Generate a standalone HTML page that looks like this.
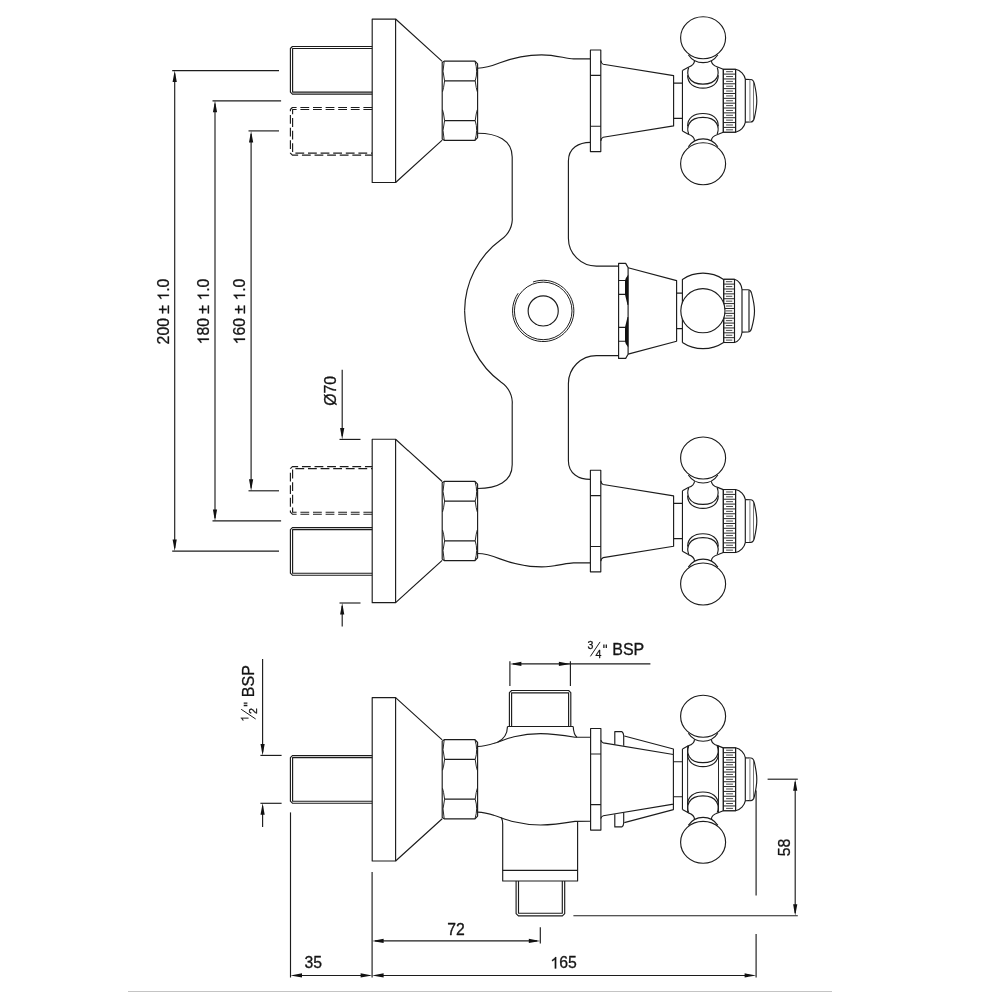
<!DOCTYPE html>
<html><head><meta charset="utf-8"><title>drawing</title>
<style>
html,body{margin:0;padding:0;background:#fff;width:1000px;height:1000px;overflow:hidden}
svg{display:block}
svg *{vector-effect:none}
.d{fill:none;stroke:#1c1c1c;stroke-width:1.15;stroke-linecap:butt;stroke-linejoin:round}
.d text{font-family:"Liberation Sans",sans-serif;fill:#141414;stroke:#141414;stroke-width:0.3}
.d .g{fill:#141414;stroke:#141414;stroke-width:38}
.d .f{fill:#111;stroke:none}
.d .t{stroke-width:0.75}
.d .k1{stroke-width:1.0;stroke:#262626}
.d .k2{stroke-width:0.3;stroke:#777;fill:none}
.d .k3{stroke-width:0.9;stroke:#333;stroke-linecap:round}
</style></head><body>
<svg width="1000" height="1000" viewBox="0 0 1000 1000">
<rect width="1000" height="1000" fill="#fff"/>
<g class="d" style="opacity:0.999">
<defs>
<g id="leftasm">
<rect x="372.2" y="-81.7" width="23.4" height="163.4"/>
<path d="M395.6,-81.7 L442.2,-39.4 M395.6,81.7 L442.2,39.4"/>
<path d="M444.2,-39.6 H475 L477.6,-36.8 V36.8 L475,39.6 H444.2 L442.2,38.2 V-38.2 Z"/>
<path d="M444.6,-19.9 H475.2 M444.6,19.9 H475.2"/>
<path stroke-width="0.95" d="M444.2,-39.4 Q441.6,-29.5 444.6,-19.9 Q443.6,-12 442.5,-9 M442.5,9 Q443.6,12 444.6,19.9 Q441.6,29.5 444.2,39.4"/>
<path stroke-width="0.95" d="M475,-39.4 Q478.2,-29.5 475.2,-19.9 Q476.2,-12 477.3,-9 M477.3,9 Q476.2,12 475.2,19.9 Q478.2,29.5 475,39.4"/>
</g>
<g id="pipe">
<path d="M372.2,-23.8 H292.4 L290.4,-21.8 V21.8 L292.4,23.8 H372.2"/>
<path d="M372.2,-21.8 H292.6 V21.8 H372.2"/>
</g>
<g id="halfhub"><ellipse cx="703.1" cy="-63" rx="22.5" ry="21"/>
<path d="M688.35,-46.05 A17.6 17.6 0 0 0 717.85,-46.05"/>
<path d="M682.45,-30.3 L688.3,-33.55 Q694.4,-35.6 694.5,-39.9"/>
<path d="M711.4,-39.9 Q711.5,-35.6 717.6,-33.7 L723.3,-31.45"/>
<path d="M688.7,-33.3 C686.3,-27 688,-16.6 702.95,-16.6 C717.9,-16.6 719.6,-27 717.2,-33.3"/>
<path d="M687.6,-25.5 C687.6,-17 694,-12.7 702.95,-12.7 C711.9,-12.7 718.3,-17 718.3,-25.5"/></g>
<g id="hub">
<use href="#halfhub"/>
<use href="#halfhub" transform="scale(1,-1)"/>
<path d="M682.45,-30.3 V30.3"/>
<g><rect x="723.30" y="-31.50" width="12.30" height="63.00" fill="#fff"/>
<path d="M726.50,-29.08 H732.60" class="k3"/>
<path d="M726.50,-24.23 H732.60" class="k3"/>
<path d="M726.50,-19.38 H732.60" class="k3"/>
<path d="M726.50,-14.54 H732.60" class="k3"/>
<path d="M726.50,-9.69 H732.60" class="k3"/>
<path d="M726.50,-4.85 H732.60" class="k3"/>
<path d="M726.50,-0.00 H732.60" class="k3"/>
<path d="M726.50,4.85 H732.60" class="k3"/>
<path d="M726.50,9.69 H732.60" class="k3"/>
<path d="M726.50,14.54 H732.60" class="k3"/>
<path d="M726.50,19.38 H732.60" class="k3"/>
<path d="M726.50,24.23 H732.60" class="k3"/>
<path d="M726.50,29.08 H732.60" class="k3"/>
<path d="M723.30,-26.65 H735.60" class="k1"/>
<path d="M723.30,-21.81 H735.60" class="k1"/>
<path d="M723.30,-16.96 H735.60" class="k1"/>
<path d="M723.30,-12.12 H735.60" class="k1"/>
<path d="M723.30,-7.27 H735.60" class="k1"/>
<path d="M723.30,-2.42 H735.60" class="k1"/>
<path d="M723.30,2.42 H735.60" class="k1"/>
<path d="M723.30,7.27 H735.60" class="k1"/>
<path d="M723.30,12.12 H735.60" class="k1"/>
<path d="M723.30,16.96 H735.60" class="k1"/>
<path d="M723.30,21.81 H735.60" class="k1"/>
<path d="M723.30,26.65 H735.60" class="k1"/>
<rect x="723.30" y="-31.50" width="12.30" height="63.00" fill="none" stroke-width="0.95"/></g>
<path d="M735.6,-31.5 C740.6,-30.4 744.4,-26.2 745.3,-21.6 V21.6 C744.4,26.2 740.6,30.4 735.6,31.5"/>
<path d="M745.3,-21.4 L750.6,-21.3 C752.8,-21.2 753.8,-19.8 754.4,-17 C756,-10 756.8,-5 756.8,0 C756.8,5 756,10 754.4,17 C753.8,19.8 752.8,21.2 750.6,21.3 L745.3,21.4"/>
<path d="M749.9,-21 V21" stroke="#9a9a9a" stroke-width="1.3"/>
<path d="M753.5,-19.3 V19.3" stroke-width="0.7" stroke="#3a3a3a"/>
</g>
<g id="handleA">
<rect x="590.4" y="-50.8" width="10.4" height="101.6"/>
<path d="M590.4,-25.45 H600.8 M590.4,25.45 H600.8"/>
<path d="M600.8,-40.1 Q601.2,-37.3 603.2,-36.55 L673.6,-25.15 V25.15 L603.2,36.55 Q601.2,37.3 600.8,40.1"/>
<path d="M673.6,-17.65 H682.45 M673.6,17.65 H682.45"/>
<use href="#hub"/>
</g>
<g id="wing">
<path d="M614.8,-34.9 V-47.6 H622 Q623.6,-46.5 623.7,-43.5 V-33.5"/>
<path d="M624.3,-43.3 L673.4,-30.3 V-24.8"/>
</g>
<g id="handleB">
<rect x="590.6" y="-50.8" width="10.3" height="101.6"/>
<path d="M590.6,-25.3 H600.9 M590.6,25.3 H600.9"/>
<path d="M600.9,-39.2 Q601.3,-37 603.3,-36.4 L673.4,-24.8 V24.8 L603.3,36.4 Q601.3,37 600.9,39.2"/>
<use href="#wing"/><use href="#wing" transform="scale(1,-1)"/>
<path d="M673.4,-17.5 H682.45 M673.4,17.5 H682.45"/>
<use href="#hub"/>
<path d="M687.6,-33.6 V33.6 M718.5,-33.6 V33.6" stroke-width="0.95"/>
</g>
<g id="handleM">
<path d="M618.6,-47.5 H625.7 L628.1,-43.3 V43.3 L625.7,47.5 H618.6 Z"/>
<path d="M618.6,-30.4 H625.5 M618.6,-16.5 H625.5 M618.6,16.5 H625.5 M618.6,30.4 H625.5"/>
<path class="f" d="M628.3,-36.5 L627.3,-35 Q625.5,-33 625,-30.5 L625,-16.4 L627.5,-6 L628.3,-6 Z M628.3,36.5 L627.3,35 Q625.5,33 625,30.5 L625,16.4 L627.5,6 L628.3,6 Z"/>
<path d="M628.1,-43.2 L676.6,-30.3 V30.3 L628.1,43.2"/>
<path d="M676.6,-17.7 H682.4 M676.6,17.7 H682.4"/>
<path d="M682.4,31.5 V-31.5 A37.2 37.2 0 0 1 723.6,-31.5 M682.4,31.5 A37.2 37.2 0 0 0 723.6,31.5"/>
<g><rect x="723.70" y="-31.65" width="10.80" height="63.30" fill="#fff"/>
<path d="M726.30,-29.22 H731.90" class="k3"/>
<path d="M726.30,-24.35 H731.90" class="k3"/>
<path d="M726.30,-19.48 H731.90" class="k3"/>
<path d="M726.30,-14.61 H731.90" class="k3"/>
<path d="M726.30,-9.74 H731.90" class="k3"/>
<path d="M726.30,-4.87 H731.90" class="k3"/>
<path d="M726.30,0.00 H731.90" class="k3"/>
<path d="M726.30,4.87 H731.90" class="k3"/>
<path d="M726.30,9.74 H731.90" class="k3"/>
<path d="M726.30,14.61 H731.90" class="k3"/>
<path d="M726.30,19.48 H731.90" class="k3"/>
<path d="M726.30,24.35 H731.90" class="k3"/>
<path d="M726.30,29.22 H731.90" class="k3"/>
<path d="M723.70,-26.78 H734.50" class="k1"/>
<path d="M723.70,-21.91 H734.50" class="k1"/>
<path d="M723.70,-17.04 H734.50" class="k1"/>
<path d="M723.70,-12.17 H734.50" class="k1"/>
<path d="M723.70,-7.30 H734.50" class="k1"/>
<path d="M723.70,-2.43 H734.50" class="k1"/>
<path d="M723.70,2.43 H734.50" class="k1"/>
<path d="M723.70,7.30 H734.50" class="k1"/>
<path d="M723.70,12.17 H734.50" class="k1"/>
<path d="M723.70,17.04 H734.50" class="k1"/>
<path d="M723.70,21.91 H734.50" class="k1"/>
<path d="M723.70,26.78 H734.50" class="k1"/>
<rect x="723.70" y="-31.65" width="10.80" height="63.30" fill="none" stroke-width="0.95"/></g>
<path d="M734.5,-31.65 C738.5,-30.3 741.4,-26 742,-21.6 V21.6 C741.4,26 738.5,30.3 734.5,31.65"/>
<path d="M742,-21.2 L748,-21.1 C750,-21 751,-20 751.6,-17.5 C753.6,-10 754.5,-5 754.5,0 C754.5,5 753.6,10 751.6,17.5 C751,20 750,21 748,21.1 L742,21.2"/>
<path d="M749,-20.5 V20.5"/>
<circle cx="702.9" cy="-0.2" r="22.1" fill="#fff"/>
</g>
<g id="tophalf"><path d="M477.6,68.2 C486,68.2 492,66 500,62.8 C509,59.3 522,54.8 541.6,54.8 C556,54.8 566,58.8 573.5,58.8 L590.4,58.8"/>
<path d="M477.6,133.2 C497,133.2 512.2,140 512.2,157 L512.2,216.5 A25 25 0 0 1 501.2,239.5 A89 89 0 0 0 464.6,310.85"/>
<path d="M590.4,142.3 C579,142.3 568.4,148 568.4,161 L568.4,238.2 A28 28 0 0 0 596.4,266.15 L618.4,266.15"/>
<use href="#leftasm" transform="translate(0,100.75)"/>
<use href="#pipe" transform="translate(0,70.3)"/>
<use href="#pipe" transform="translate(0,131.3)" stroke-dasharray="8.8 3.8"/></g>
<g id="sidehalf"><path d="M477.7,-32.8 C492,-33.3 502,-39.8 514,-42.5 C523,-44.7 531,-45.7 540.5,-45.7 C552,-45.7 562,-44.3 575,-42.1 L590.5,-42"/></g>
</defs>
<use href="#tophalf"/>
<use href="#tophalf" transform="translate(0,621.70) scale(1,-1)"/>
<use href="#handleA" transform="translate(0,100.75)"/>
<use href="#handleA" transform="translate(0,521.05)"/>
<use href="#handleM" transform="translate(0,310.9)"/>
<circle cx="543.2" cy="310.9" r="15.05"/>
<circle cx="543.2" cy="310.9" r="28.8" stroke-width="0.95" stroke="#111"/>
<path d="M532.97,282.01 A30.65 30.65 0 1 1 518.19,293.19" stroke-width="0.95" stroke="#111"/>
<path d="M172.20,70.60 L279.00,70.60" />
<path d="M172.20,551.10 L279.00,551.10" />
<path d="M174.70,73.60 L174.70,548.10" />
<polygon class="f" points="174.70,70.60 172.60,82.10 176.80,82.10"/>
<polygon class="f" points="174.70,551.10 172.60,539.60 176.80,539.60"/>
<path d="M212.50,100.80 L281.10,100.80" />
<path d="M212.50,520.90 L281.10,520.90" />
<path d="M215.00,103.80 L215.00,517.90" />
<polygon class="f" points="215.00,100.80 212.90,112.30 217.10,112.30"/>
<polygon class="f" points="215.00,520.90 212.90,509.40 217.10,509.40"/>
<path d="M248.50,130.90 L279.00,130.90" />
<path d="M248.50,490.80 L279.00,490.80" />
<path d="M251.10,133.90 L251.10,487.80" />
<polygon class="f" points="251.10,130.90 249.00,142.40 253.20,142.40"/>
<polygon class="f" points="251.10,490.80 249.00,479.30 253.20,479.30"/>
<g transform="translate(168.90,311.50) rotate(-90)"><text x="-32.89" y="0" font-size="15.80">2</text><text x="-24.10" y="0" font-size="15.80">0</text><text x="-15.32" y="0" font-size="15.80">0</text><text x="-2.14" y="0" font-size="15.80">±</text><path class="g" transform="translate(10.93,0) scale(0.00771,-0.00771)" d="M763 0H583V1147Q518 1085 412.5 1023T223 930V1104Q374 1175 487 1276T647 1472H763Z"/><text x="19.71" y="0" font-size="15.80">.</text><text x="24.10" y="0" font-size="15.80">0</text></g>
<g transform="translate(208.90,311.50) rotate(-90)"><path class="g" transform="translate(-32.89,0) scale(0.00771,-0.00771)" d="M763 0H583V1147Q518 1085 412.5 1023T223 930V1104Q374 1175 487 1276T647 1472H763Z"/><text x="-24.10" y="0" font-size="15.80">8</text><text x="-15.32" y="0" font-size="15.80">0</text><text x="-2.14" y="0" font-size="15.80">±</text><path class="g" transform="translate(10.93,0) scale(0.00771,-0.00771)" d="M763 0H583V1147Q518 1085 412.5 1023T223 930V1104Q374 1175 487 1276T647 1472H763Z"/><text x="19.71" y="0" font-size="15.80">.</text><text x="24.10" y="0" font-size="15.80">0</text></g>
<g transform="translate(245.00,311.50) rotate(-90)"><path class="g" transform="translate(-32.89,0) scale(0.00771,-0.00771)" d="M763 0H583V1147Q518 1085 412.5 1023T223 930V1104Q374 1175 487 1276T647 1472H763Z"/><text x="-24.10" y="0" font-size="15.80">6</text><text x="-15.32" y="0" font-size="15.80">0</text><text x="-2.14" y="0" font-size="15.80">±</text><path class="g" transform="translate(10.93,0) scale(0.00771,-0.00771)" d="M763 0H583V1147Q518 1085 412.5 1023T223 930V1104Q374 1175 487 1276T647 1472H763Z"/><text x="19.71" y="0" font-size="15.80">.</text><text x="24.10" y="0" font-size="15.80">0</text></g>
<path d="M339.50,439.40 L360.50,439.40" />
<path d="M339.50,603.00 L360.50,603.00" />
<path d="M342.20,369.80 L342.20,436.00" />
<polygon class="f" points="342.20,439.40 340.10,427.90 344.30,427.90"/>
<path d="M342.20,606.00 L342.20,626.50" />
<polygon class="f" points="342.20,603.00 340.10,614.50 344.30,614.50"/>
<g transform="translate(335.80,390.80) rotate(-90)"><text x="-14.93" y="0" font-size="15.80">Ø</text><text x="-2.64" y="0" font-size="15.80">7</text><text x="6.15" y="0" font-size="15.80">0</text></g>
<use href="#leftasm" transform="translate(0,779.30)"/>
<use href="#pipe" transform="translate(0,779.40)"/>
<use href="#sidehalf" transform="translate(0,779.30)"/>
<use href="#sidehalf" transform="translate(0,779.30) scale(1,-1)"/>
<path d="M509.4,726.5 V692.7 L511.6,690.5 H568.6 L570.8,692.7 V726.5"/>
<path d="M511.6,726.5 V692.8 H568.6 V726.5"/>
<path d="M507.5,726.5 H573.2"/>
<path d="M507.5,726.5 C507.3,734 503.5,739.5 497.5,742.2"/>
<path d="M573.2,726.5 C573.5,732 574.6,735.6 577,737.3"/>
<path d="M501.3,817.6 Q502.7,820 502.7,824 V881 H577.6 V821.3"/>
<path d="M502.7,870.3 H577.6"/>
<path d="M516.1,881 V913.6 L518.4,915.9 H562.4 L564.7,913.6 V881"/>
<path d="M518.5,881 V913.2 H562.3 V881"/>
<use href="#handleB" transform="translate(0,779.30)"/>
<path d="M509.90,661.20 L509.90,686.00" />
<path d="M570.40,661.20 L570.40,686.00" />
<path d="M513.00,663.90 L650.40,663.90" />
<polygon class="f" points="509.90,663.90 521.40,661.80 521.40,666.00"/>
<polygon class="f" points="570.40,663.90 558.90,661.80 558.90,666.00"/>
<path d="M260.40,755.40 L281.60,755.40" />
<path d="M260.40,803.30 L281.60,803.30" />
<path d="M262.60,659.00 L262.60,752.00" />
<polygon class="f" points="262.60,755.40 260.50,743.90 264.70,743.90"/>
<path d="M262.60,806.00 L262.60,827.00" />
<polygon class="f" points="262.60,803.30 260.50,814.80 264.70,814.80"/>
<path d="M290.50,812.40 L290.50,977.50" />
<path d="M372.10,872.00 L372.10,977.50" />
<path d="M756.10,934.00 L756.10,977.50" />
<path d="M756.10,790.60 L756.10,895.50" />
<path d="M293.00,975.45 L370.00,975.45" />
<path d="M375.00,975.45 L753.00,975.45" />
<polygon class="f" points="290.50,975.45 302.00,973.35 302.00,977.55"/>
<polygon class="f" points="372.10,975.45 360.60,973.35 360.60,977.55"/>
<polygon class="f" points="372.10,975.45 383.60,973.35 383.60,977.55"/>
<polygon class="f" points="756.10,975.45 744.60,973.35 744.60,977.55"/>
<path d="M540.30,927.20 L540.30,943.60" />
<path d="M375.00,940.90 L537.00,940.90" />
<polygon class="f" points="372.10,940.90 383.60,938.80 383.60,943.00"/>
<polygon class="f" points="540.30,940.90 528.80,938.80 528.80,943.00"/>
<path d="M767.60,779.20 L797.80,779.20" />
<path d="M573.40,915.70 L797.80,915.70" />
<path d="M795.20,782.00 L795.20,913.00" />
<polygon class="f" points="795.20,779.20 793.10,790.70 797.30,790.70"/>
<polygon class="f" points="795.20,915.70 793.10,904.20 797.30,904.20"/>
<g transform="translate(789.70,847.60) rotate(-90)"><text x="-8.78" y="0" font-size="15.80">5</text><text x="0.00" y="0" font-size="15.80">8</text></g>
<g transform="translate(455.90,934.50)"><text x="-8.78" y="0" font-size="15.80">7</text><text x="0.00" y="0" font-size="15.80">2</text></g>
<g transform="translate(313.30,968.40)"><text x="-8.78" y="0" font-size="15.80">3</text><text x="0.00" y="0" font-size="15.80">5</text></g>
<g transform="translate(563.50,968.40)"><path class="g" transform="translate(-13.18,0) scale(0.00771,-0.00771)" d="M763 0H583V1147Q518 1085 412.5 1023T223 930V1104Q374 1175 487 1276T647 1472H763Z"/><text x="-4.39" y="0" font-size="15.80">6</text><text x="4.39" y="0" font-size="15.80">5</text></g>
<g transform="translate(613.4,655.1)"><g><text x="-25.9" y="-6" font-size="10.6">3</text><path d="M-23,1.3 L-13.3,-13.2" stroke-width="1"/><text x="-17.9" y="2.5" font-size="10.6">4</text><path d="M-9.5,-10.7 V-7 M-7.1,-10.7 V-7" stroke-width="1.3"/><text x="-1.2" y="0" font-size="16">BSP</text></g></g>
<g transform="translate(254.4,696) rotate(-90)"><g><path class="g" transform="translate(-25.60,-6) scale(0.00518,-0.00518)" d="M763 0H583V1147Q518 1085 412.5 1023T223 930V1104Q374 1175 487 1276T647 1472H763Z"/><path d="M-23,1.3 L-13.3,-13.2" stroke-width="1"/><text x="-17.9" y="2.5" font-size="10.6">2</text><path d="M-9.5,-10.7 V-7 M-7.1,-10.7 V-7" stroke-width="1.3"/><text x="-1.2" y="0" font-size="16">BSP</text></g></g>
<path d="M128,991.5 H832" stroke="#c4c4c4" stroke-width="1"/>
</g>
</svg>
</body></html>
